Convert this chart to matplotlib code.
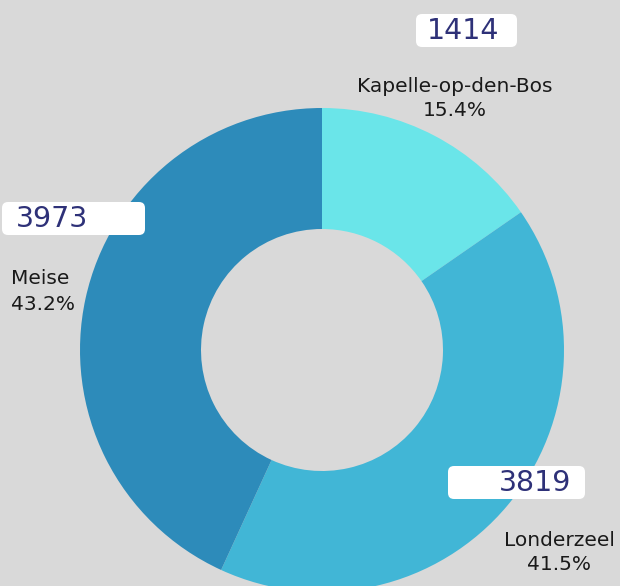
import matplotlib.pyplot as plt
from matplotlib.patches import FancyBboxPatch

plt.rcParams['font.family'] = ['DejaVu Sans']

gemeenten = ['Kapelle-op-den-Bos', 'Londerzeel', 'Meise']
aantallen = [1414, 3819, 3973]
kleuren = ['#6ae5e9', '#41b6d6', '#2d8bba']

W, H = 620, 586
fig = plt.figure(figsize=(W / 100, H / 100), dpi=100, facecolor='#d9d9d9')
ax = fig.add_axes([0, 0, 1, 1])
ax.set_facecolor('#d9d9d9')

# pixel-like coordinates, y measured from the bottom
cx, cy = 322, H - 350
ax.pie(aantallen, colors=kleuren, startangle=90, counterclock=False,
       center=(cx, cy), radius=242, wedgeprops=dict(width=121, linewidth=0))
ax.set_xlim(0, W)
ax.set_ylim(0, H)
ax.set_aspect('equal')
ax.axis('off')

totaal = sum(aantallen)
pct = [a / totaal * 100 for a in aantallen]

# (box x, box y top, box width, number x, label x, label y, label align)
plaatsen = [
    (416, 14, 101, 463, 455, 86, 'center'),
    (448, 466, 137, 535, 559, 540, 'center'),
    (2, 202, 143, 52, 11, 279, 'left'),
]

for (bx, by, bw, nx, lx, ly, al), naam, n, p in zip(plaatsen, gemeenten, aantallen, pct):
    box = FancyBboxPatch((bx + 6, H - by - 33 + 6), bw - 12, 33 - 12,
                         boxstyle='round,pad=6', fc='white', ec='none')
    ax.add_patch(box)
    ax.text(nx, H - by - 17, str(n), ha='center', va='center',
            fontsize=20.5, color='#2e3178')
    ax.text(lx, H - ly, naam, ha=al, va='center', fontsize=14.5, color='#1a1a1a')
    ax.text(lx, H - ly - 25, f'{p:.1f}%', ha=al,
            va='center', fontsize=14.5, color='#1a1a1a')

fig.savefig('out.png', dpi=100, facecolor=fig.get_facecolor())
